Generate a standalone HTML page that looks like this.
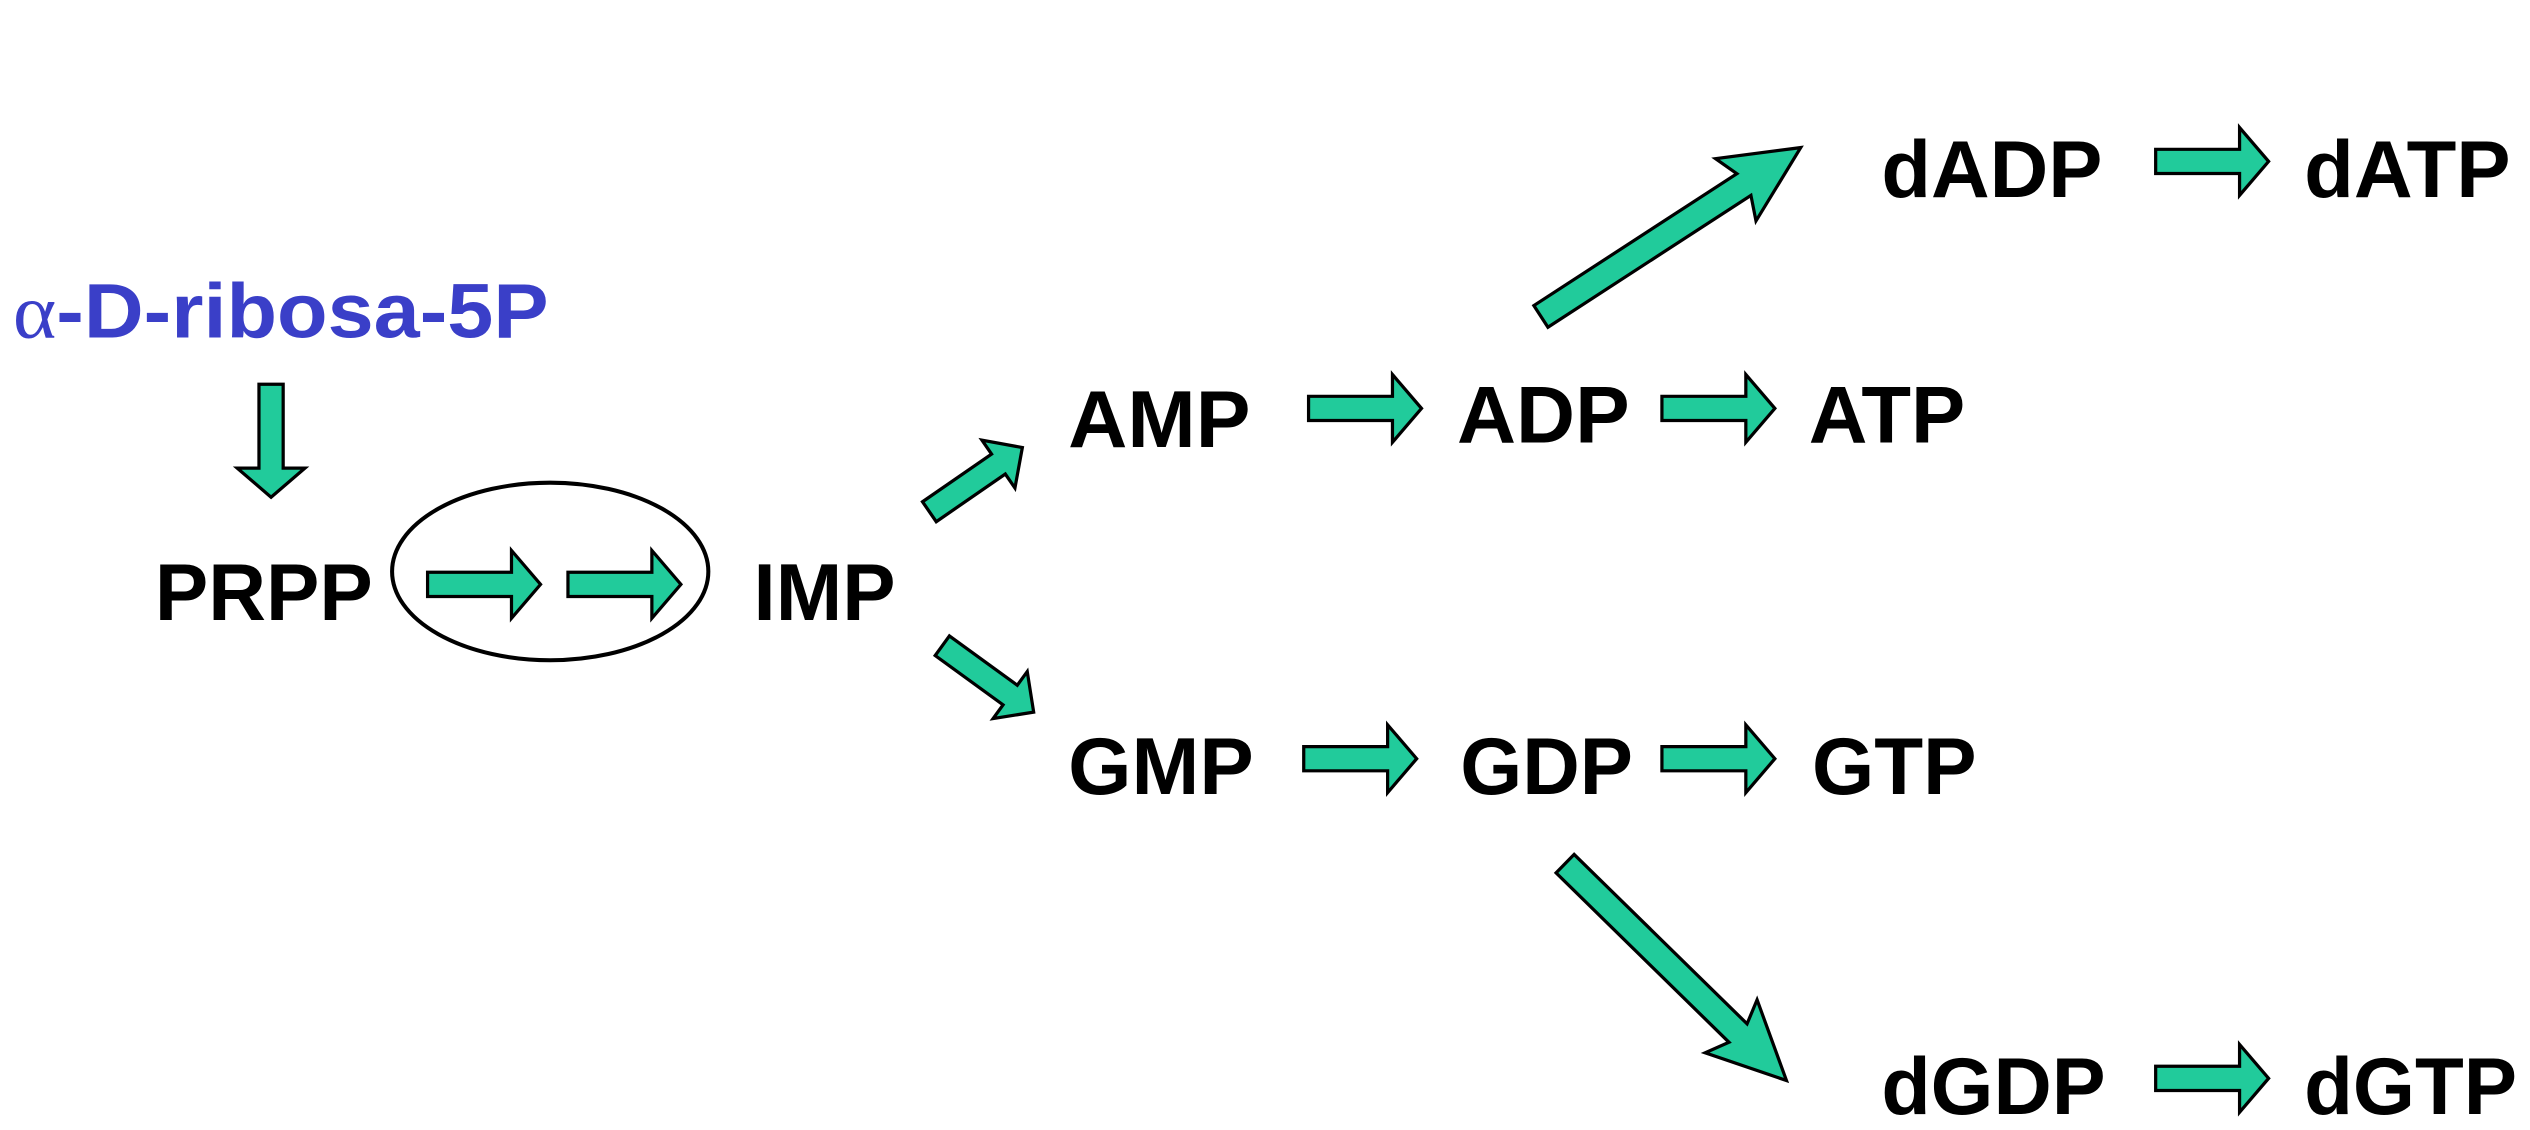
<!DOCTYPE html>
<html><head><meta charset="utf-8"><style>
html,body{margin:0;padding:0;background:#fff;}
svg{display:block;}
text{font-family:"Liberation Sans",Arial,sans-serif;font-weight:bold;font-size:50px;fill:#000;}
</style></head><body>
<svg width="2530" height="1130" viewBox="0 0 1568 700" preserveAspectRatio="none" xmlns="http://www.w3.org/2000/svg">
<defs>
<polygon id="sa" points="0,-7.5 52,-7.5 52,-21 70,0 52,21 52,7.5 0,7.5" fill="#21CB9B" stroke="#000" stroke-width="2"/>
<polygon id="ma" points="0,-7.5 52,-7.5 52,-18 70,0 52,18 52,7.5 0,7.5" fill="#21CB9B" stroke="#000" stroke-width="2"/>
<polygon id="ba" points="0,-8 150,-8 144,-23 192,0 144,23 150,8 0,8" fill="#21CB9B" stroke="#000" stroke-width="2"/>
</defs>
<text x="8" y="209" textLength="332" lengthAdjust="spacingAndGlyphs" style="fill:#3a3fc8;font-size:48px"><tspan style="font-family:'Liberation Serif',serif;font-weight:normal">α</tspan>-D-ribosa-5P</text>
<use href="#sa" transform="translate(168,238) rotate(90)"/>
<text x="96" y="384" textLength="135" lengthAdjust="spacingAndGlyphs">PRPP</text>
<ellipse cx="341" cy="354" rx="98" ry="55" fill="none" stroke="#000" stroke-width="2.5"/>
<use href="#sa" transform="translate(265,362)"/>
<use href="#sa" transform="translate(352,362)"/>
<text x="467" y="384" textLength="88" lengthAdjust="spacingAndGlyphs">IMP</text>
<use href="#ma" transform="translate(576,317) rotate(-34.6)"/>
<use href="#ma" transform="translate(584,400) rotate(36)"/>
<text x="662" y="277" textLength="113" lengthAdjust="spacingAndGlyphs">AMP</text>
<use href="#sa" transform="translate(811,253)"/>
<text x="903" y="274" textLength="107" lengthAdjust="spacingAndGlyphs">ADP</text>
<use href="#sa" transform="translate(1030,253)"/>
<text x="1121" y="274" textLength="97" lengthAdjust="spacingAndGlyphs">ATP</text>
<use href="#ba" transform="translate(955,196) rotate(-33)"/>
<text x="1166" y="122" textLength="137" lengthAdjust="spacingAndGlyphs">dADP</text>
<use href="#sa" transform="translate(1336,100)"/>
<text x="1428" y="122" textLength="128" lengthAdjust="spacingAndGlyphs">dATP</text>
<text x="662" y="492" textLength="115" lengthAdjust="spacingAndGlyphs">GMP</text>
<use href="#sa" transform="translate(808,470)"/>
<text x="905" y="492" textLength="107" lengthAdjust="spacingAndGlyphs">GDP</text>
<use href="#sa" transform="translate(1030,470)"/>
<text x="1123" y="492" textLength="102" lengthAdjust="spacingAndGlyphs">GTP</text>
<use href="#ba" transform="translate(970,535) rotate(44.4)"/>
<text x="1166" y="690" textLength="139" lengthAdjust="spacingAndGlyphs">dGDP</text>
<use href="#sa" transform="translate(1336,668)"/>
<text x="1428" y="690" textLength="132" lengthAdjust="spacingAndGlyphs">dGTP</text>
</svg>
</body></html>
